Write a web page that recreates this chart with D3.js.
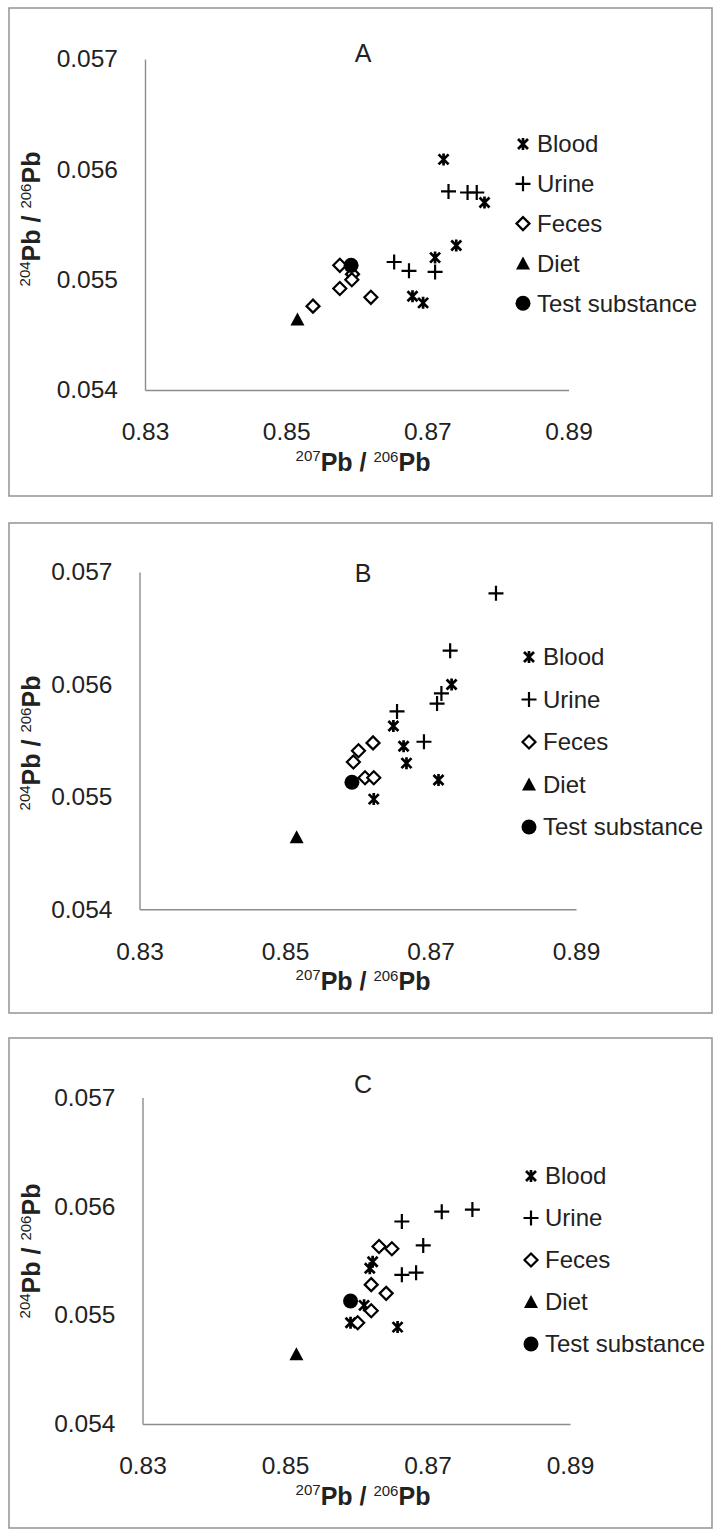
<!DOCTYPE html>
<html>
<head>
<meta charset="utf-8">
<script src="https://cdn.jsdelivr.net/npm/d3@7"></script>
<style>
  body { margin: 0; background: #fff; }
  svg { display: block; font-family: "Liberation Sans", Arial, sans-serif; }
</style>
</head>
<body>
<div id="chart"></div>
<script>
// data: [207Pb/206Pb, 204Pb/206Pb]
var seriesNames = ["Blood", "Urine", "Feces", "Diet", "Test substance"];
var panelLetters = ["A", "B", "C"];
var xTicks = [0.83, 0.85, 0.87, 0.89];
var yTicks = [0.054, 0.055, 0.056, 0.057];

var bloodA = [[0.8723,0.05609],[0.8781,0.05570],[0.8741,0.05531],[0.8711,0.05520],[0.8679,0.05485],[0.8694,0.05479]];
var urineA = [[0.8730,0.05580],[0.8757,0.05579],[0.8770,0.05579],[0.8653,0.05516],[0.8674,0.05508],[0.8711,0.05507]];
var fecesA = [[0.8576,0.05513],[0.8594,0.05505],[0.8593,0.05500],[0.8576,0.05492],[0.8620,0.05484],[0.8538,0.05476]];

var bloodB = [[0.8729,0.05600],[0.8649,0.05563],[0.8663,0.05545],[0.8667,0.05530],[0.8711,0.05515],[0.8622,0.05498]];
var urineB = [[0.8790,0.05681],[0.8727,0.05630],[0.8715,0.05592],[0.8709,0.05583],[0.8654,0.05576],[0.8691,0.05549]];
var fecesB = [[0.8621,0.05548],[0.8601,0.05541],[0.8594,0.05531],[0.8610,0.05517],[0.8622,0.05517]];

var bloodC = [[0.8623,0.05549],[0.8619,0.05543],[0.8611,0.05509],[0.8592,0.05493],[0.8658,0.05489]];
var urineC = [[0.8664,0.05586],[0.8720,0.05595],[0.8763,0.05597],[0.8694,0.05564],[0.8664,0.05537],[0.8684,0.05539]];
var fecesC = [[0.8632,0.05563],[0.8650,0.05561],[0.8621,0.05528],[0.8642,0.05520],[0.8621,0.05504],[0.8602,0.05493]];

var diet = [[0.8516,0.05464]];
var testSubstance = [[0.8592,0.05513]];

// layout of the three boxes (pixels)
var panels = [
  {letter: 0, box: [9, 8, 712, 496], plot: [145, 59, 568.5, 390], letterY: 53, titleY: 219, legX: 523, legY: 144, legStep: 39.8,
   series: [bloodA, urineA, fecesA, diet, testSubstance]},
  {letter: 1, box: [9, 523, 712, 1013], plot: [139.5, 572, 576, 909.3], letterY: 573, titleY: 743, legX: 529, legY: 657, legStep: 42.5,
   series: [bloodB, urineB, fecesB, diet, testSubstance]},
  {letter: 2, box: [9, 1038, 712, 1528], plot: [142.5, 1097.4, 570, 1424], letterY: 1084, titleY: 1251, legX: 531, legY: 1176, legStep: 42,
   series: [bloodC, urineC, fecesC, diet, testSubstance]}
];

var svg = d3.select("#chart").append("svg")
  .attr("width", 720)
  .attr("height", 1537);

// marker drawing
function drawMarker(g, i, cx, cy) {
  var m = g.append("g").attr("transform", "translate(" + cx + "," + cy + ")");
  if (i == 0) {
    var s = 5;
    m.append("path")
      .attr("d", "M" + -s + "," + -s + "L" + s + "," + s + "M" + -s + "," + s + "L" + s + "," + -s + "M0," + (-s - 1) + "L0," + (s + 1))
      .attr("stroke", "#000").attr("stroke-width", 2.7).attr("fill", "none");
  } else if (i == 1) {
    var p = 7.5;
    m.append("path")
      .attr("d", "M" + -p + ",0L" + p + ",0M0," + -p + "L0," + p)
      .attr("stroke", "#000").attr("stroke-width", 2.2).attr("fill", "none");
  } else if (i == 2) {
    var d = 6.5;
    m.append("path")
      .attr("d", "M0," + -d + "L" + d + ",0L0," + d + "L" + -d + ",0Z")
      .attr("stroke", "#000").attr("stroke-width", 2.2).attr("fill", "#fff");
  } else if (i == 3) {
    m.append("path")
      .attr("d", "M0,-7L7,6L-7,6Z")
      .attr("fill", "#000");
  } else {
    m.append("circle").attr("r", 7.5).attr("fill", "#000");
  }
}

function pbTitle(t, top, bottom) {
  t.append("tspan").attr("font-size", 15).attr("dy", "-0.6em").text(top);
  t.append("tspan").attr("font-size", 25).attr("font-weight", "bold").attr("dy", "0.38em").text("Pb / ");
  t.append("tspan").attr("font-size", 15).attr("dy", "-0.6em").text(bottom);
  t.append("tspan").attr("font-size", 25).attr("font-weight", "bold").attr("dy", "0.38em").text("Pb");
}

panels.forEach(function(p) {
  var g = svg.append("g");

  g.append("rect")
    .attr("x", p.box[0]).attr("y", p.box[1])
    .attr("width", p.box[2] - p.box[0]).attr("height", p.box[3] - p.box[1])
    .attr("fill", "none").attr("stroke", "#9a9a9a").attr("stroke-width", 1.6);

  var x = d3.scaleLinear().domain([0.83, 0.89]).range([p.plot[0], p.plot[2]]);
  var y = d3.scaleLinear().domain([0.054, 0.057]).range([p.plot[3], p.plot[1]]);

  // axes, Excel style: plain lines, labels set away from the line
  var xAxis = g.append("g")
    .attr("transform", "translate(0," + p.plot[3] + ")")
    .call(d3.axisBottom(x).tickValues(xTicks).tickSize(0).tickPadding(33).tickFormat(d3.format(".2f")));
  var yAxis = g.append("g")
    .attr("transform", "translate(" + p.plot[0] + ",0)")
    .call(d3.axisLeft(y).tickValues(yTicks).tickSize(0).tickPadding(27).tickFormat(d3.format(".3f")));
  [xAxis, yAxis].forEach(function(a) {
    a.select(".domain").attr("stroke", "#8c8c8c").attr("stroke-width", 1.4);
    a.selectAll("text").attr("font-size", 24.5).attr("fill", "#222").attr("font-family", "Liberation Sans, Arial, sans-serif");
  });

  g.append("text")
    .attr("x", 363).attr("y", p.letterY).attr("dy", "0.35em")
    .attr("text-anchor", "middle").attr("font-size", 25).attr("fill", "#222")
    .text(panelLetters[p.letter]);

  var xt = g.append("text")
    .attr("x", 363).attr("y", p.plot[3] + 80).attr("dy", "0.35em")
    .attr("text-anchor", "middle").attr("fill", "#222");
  pbTitle(xt, "207", "206");

  var yt = g.append("text")
    .attr("transform", "translate(39," + p.titleY + ") rotate(-90)")
    .attr("dy", "0.35em")
    .attr("text-anchor", "middle").attr("fill", "#222");
  pbTitle(yt, "204", "206");

  p.series.forEach(function(pts, i) {
    pts.forEach(function(d) {
      drawMarker(g, i, x(d[0]), y(d[1]));
    });
  });

  seriesNames.forEach(function(name, i) {
    var ly = p.legY + i * p.legStep;
    drawMarker(g, i, p.legX, ly);
    g.append("text")
      .attr("x", p.legX + 14).attr("y", ly).attr("dy", "0.35em")
      .attr("font-size", 24).attr("fill", "#222")
      .text(name);
  });
});
</script>
</body>
</html>
